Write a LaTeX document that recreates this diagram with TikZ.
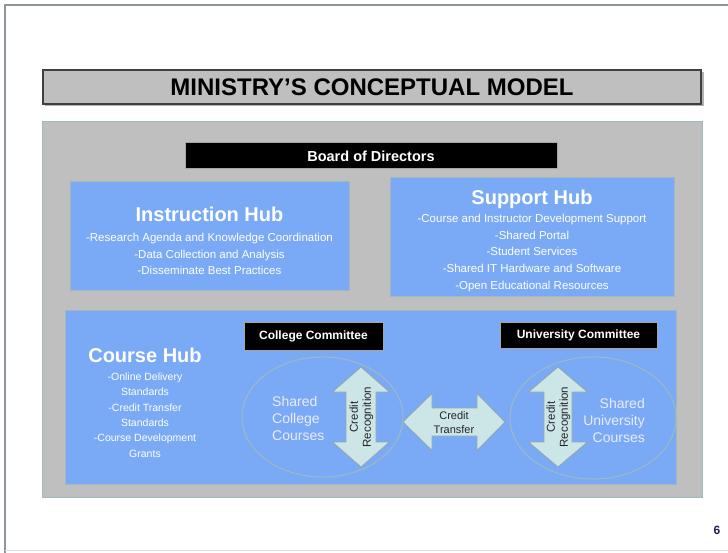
\documentclass[tikz,border=0pt]{standalone}
\usepackage{fontspec}
\setmainfont{Liberation Sans}
\usetikzlibrary{shapes.geometric}
\definecolor{hubblue}{RGB}{122,170,246}
\definecolor{panelgray}{RGB}{191,191,191}
\definecolor{edgeteal}{RGB}{158,186,192}
\definecolor{arrowfill}{RGB}{204,230,232}
\definecolor{arrowedge}{RGB}{150,165,168}
\definecolor{framegray}{RGB}{140,148,158}
\definecolor{navy}{RGB}{30,30,80}
\tikzset{
  box/.style={rectangle, inner sep=0pt, outer sep=0pt},
  hubbox/.style={box, fill=hubblue, draw=edgeteal, line width=1pt},
  blackbox/.style={box, fill=black, draw=gray!70, line width=1pt, text=white, font=\fontsize{12}{14}\selectfont\bfseries},
  hubtitle/.style={text=white, font=\fontsize{20}{24}\selectfont\bfseries, inner sep=0pt},
  hublines/.style={text=white, align=center, inner sep=0pt},
  ell/.style={ellipse, draw=edgeteal, line width=1pt, inner sep=0pt},
  dblarrow/.style={fill=arrowfill, draw=arrowedge, line width=0.8pt, line join=miter},
  arrowtext/.style={text=black!85, align=center, inner sep=0pt, font=\fontsize{11.5}{13}\selectfont},
  ellipsetext/.style={text=white!92!blue, inner sep=0pt, font=\fontsize{14}{17}\selectfont}
}
\begin{document}
\begin{tikzpicture}[x=1pt,y=-1pt]
\useasboundingbox (0,0) rectangle (728,553);
\fill[white] (0,0) rectangle (728,553);
% page frame
\draw[framegray, line width=2pt] (5,553) -- (5,5) -- (728,5);
\draw[gray!25, line width=1pt] (5,550) -- (728,550);
% title
\fill[gray!60] (45,72) rectangle (704,106);
\node[box, fill=panelgray, draw=black!75, line width=1.2pt, minimum width=658pt, minimum height=34pt,
  font=\fontsize{24}{28}\selectfont\bfseries] (title) at (372,87) {MINISTRY’S CONCEPTUAL MODEL};
% outer panel
\node[box, fill=panelgray, draw=edgeteal, line width=1pt, minimum width=660pt, minimum height=375pt] (panel) at (372,309.5) {};
% board
\node[blackbox, minimum width=372pt, minimum height=26pt, font=\fontsize{14.5}{17}\selectfont\bfseries] (board) at (371,156) {Board of Directors};
% instruction hub
\node[hubbox, minimum width=279pt, minimum height=109pt] (instr) at (209.5,236.5) {};
\node[hubtitle] (instrT) at (209.5,214) {Instruction Hub};
\node[hublines, font=\fontsize{11.5}{16.5}\selectfont] (instrL) at (209.5,254) {-Research Agenda and Knowledge Coordination\\-Data Collection and Analysis\\-Disseminate Best Practices};
% support hub
\node[hubbox, minimum width=284pt, minimum height=119pt] (supp) at (532,237.5) {};
\node[hubtitle] (suppT) at (532,199) {Support Hub};
\node[hublines, font=\fontsize{11.5}{16.7}\selectfont] (suppL) at (532,253) {-Course and Instructor Development Support\\-Shared Portal\\-Student Services\\-Shared IT Hardware and Software\\-Open Educational Resources};
% course hub
\node[hubbox, minimum width=611pt, minimum height=174pt] (course) at (370.5,397) {};
\node[hubtitle] (courseT) at (145,355) {Course Hub};
\node[hublines, font=\fontsize{10.5}{15.4}\selectfont] (courseL) at (145,415) {-Online Delivery\\Standards\\-Credit Transfer\\Standards\\-Course Development\\Grants};
% committees
\node[blackbox, minimum width=139pt, minimum height=28pt] (colcom) at (313.5,336) {College Committee};
\node[blackbox, minimum width=157pt, minimum height=26pt] (unicom) at (578.5,335) {University Committee};
% ellipses
\node[ell, minimum width=161pt, minimum height=120pt] (colell) at (322.5,417) {};
\node[ell, minimum width=166pt, minimum height=122pt] (uniell) at (593,418) {};
\node[ellipsetext, align=left, anchor=west] (colT) at (272,418) {Shared\\College\\Courses};
\node[ellipsetext, align=right, anchor=east] (uniT) at (645,420) {Shared\\University\\Courses};
% vertical double arrows
\draw[dblarrow] (361,367) -- (389.5,392) -- (376,392) -- (376,442) -- (389.5,442) -- (361,467)
  -- (332.5,442) -- (346,442) -- (346,392) -- (332.5,392) -- cycle;
\node[arrowtext, rotate=90] (colRec) at (361.5,417) {Credit\\Recognition};
\draw[dblarrow] (558,367) -- (587.5,392) -- (572,392) -- (572,442) -- (587.5,442) -- (558,467)
  -- (528.5,442) -- (544,442) -- (544,392) -- (528.5,392) -- cycle;
\node[arrowtext, rotate=90] (uniRec) at (558.5,417) {Credit\\Recognition};
% horizontal double arrow
\draw[dblarrow] (403,422) -- (432,393.5) -- (432,408) -- (477,408) -- (477,393.5) -- (505,422)
  -- (477,450.5) -- (477,436) -- (432,436) -- (432,450.5) -- cycle;
\node[arrowtext, font=\fontsize{11}{13.5}\selectfont] (transfer) at (454,422.5) {Credit\\Transfer};
% page number
\node[text=navy, font=\fontsize{12}{14}\selectfont\bfseries, inner sep=0pt] (pnum) at (717,530) {6};
\end{tikzpicture}
\end{document}
